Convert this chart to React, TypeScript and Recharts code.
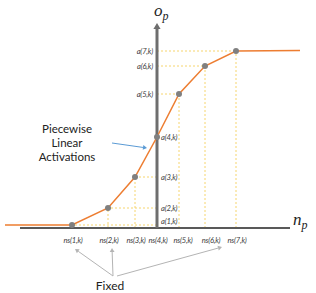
import React from "react";
import { ComposedChart, Line, Scatter, XAxis, YAxis, ReferenceLine, ReferenceDot } from "recharts";

// breakpoints ns(i,k) and activation values a(i,k), one unit = 25px in the picture
const nsValues = [-3.4, -1.96, -0.88, 0, 0.88, 1.92, 3.16];
const aValues = [0.12, 0.8, 2.04, 3.64, 5.36, 6.48, 7.08];
const nsLabels = ["ns(1,k)", "ns(2,k)", "ns(3,k)", "ns(4,k)", "ns(5,k)", "ns(6,k)", "ns(7,k)"];
const aLabels = ["a(1,k)", "a(2,k)", "a(3,k)", "a(4,k)", "a(5,k)", "a(6,k)", "a(7,k)"];
// flat tails of the activation outside the breakpoints
const leftTail = { x: -6.08, y: 0.12 };
const rightTail = { x: 5.72, y: 7.1 };

const points = nsValues.map((x, i) => ({ x, y: aValues[i] }));
const curve = [leftTail, ...points, rightTail];

const ORANGE = "#ED7D31";
const DASH = "#F6D56E";
const LABEL_FONT = "Lato, 'Open Sans', sans-serif";
// the tick labels under ns(5,k), ns(6,k) sit a bit right of their points
const tickNudge = [1, 1, 1, 1, 4, 6, 1];
// a(1,k) is lifted off the x axis
const aNudge = [-4, 0, 0, 0, 0, 0, 0];

function ArrowShape(props: any) {
  const { x1, y1, x2, y2, color, width, head, filled } = props;
  const ang = Math.atan2(y2 - y1, x2 - x1);
  const hl = head ?? 5;
  const hw = hl * 0.6;
  const bx = x2 - hl * Math.cos(ang);
  const by = y2 - hl * Math.sin(ang);
  const px = -Math.sin(ang) * hw;
  const py = Math.cos(ang) * hw;
  return (
    <g>
      <line x1={x1} y1={y1} x2={bx} y2={by} stroke={color} strokeWidth={width} />
      {filled ? (
        <polygon points={`${x2},${y2} ${bx + px},${by + py} ${bx - px},${by - py}`} fill={color} />
      ) : (
        <polyline
          points={`${bx + px},${by + py} ${x2},${y2} ${bx - px},${by - py}`}
          fill="none"
          stroke={color}
          strokeWidth={width}
        />
      )}
    </g>
  );
}

function NsTick(props: any) {
  const { x, y, payload } = props;
  return (
    <text
      x={x + tickNudge[payload.index]}
      y={y}
      dy={15}
      textAnchor="middle"
      fontFamily={LABEL_FONT}
      fontStyle="italic"
      fontSize={7.6}
      letterSpacing={-0.25}
      fill="#404040"
    >
      {nsLabels[payload.index]}
    </text>
  );
}

export default function App() {
  return (
    <div style={{ position: "absolute", left: 0, top: 0, background: "#fff" }}>
      <ComposedChart width={316} height={293} margin={{ top: 0, right: 0, bottom: 0, left: 0 }}>
        <XAxis
          dataKey="x"
          type="number"
          domain={[-6.28, 6.36]}
          ticks={nsValues}
          interval={0}
          height={65}
          axisLine={false}
          tickLine={false}
          tickSize={0}
          tickMargin={0}
          tick={<NsTick />}
          allowDataOverflow
        />
        <YAxis dataKey="y" type="number" domain={[0, 9.12]} hide allowDataOverflow />

        {points.map((p, i) => (
          <ReferenceLine
            key={`v${i}`}
            segment={[{ x: p.x, y: 0 }, { x: p.x, y: p.y }]}
            stroke={DASH}
            strokeDasharray="2 2"
            strokeWidth={1}
            ifOverflow="visible"
          />
        ))}
        {points.map((p, i) => (
          <ReferenceLine
            key={`h${i}`}
            segment={[{ x: 0, y: p.y }, { x: p.x, y: p.y }]}
            stroke={DASH}
            strokeDasharray="2 2"
            strokeWidth={1}
            ifOverflow="visible"
          />
        ))}

        {/* axes */}
        <ReferenceLine
          segment={[{ x: -5.48, y: 0 }, { x: 5.32, y: 0 }]}
          stroke="#595959"
          strokeWidth={2}
          ifOverflow="visible"
        />
        <ReferenceLine
          segment={[{ x: 0, y: 0 }, { x: 0, y: 8.2 }]}
          ifOverflow="visible"
          shape={(p: any) => <ArrowShape {...p} color="#6E6E6E" width={3} head={6} filled />}
        />

        <Line
          data={curve}
          dataKey="y"
          type="linear"
          stroke={ORANGE}
          strokeWidth={1.5}
          dot={false}
          activeDot={false}
          legendType="none"
          isAnimationActive={false}
        />
        <Scatter
          data={points}
          dataKey="y"
          isAnimationActive={false}
          shape={(p: any) => <circle cx={p.cx} cy={p.cy} r={3} fill="#808080" />}
        />

        {aLabels.map((label, i) => (
          <ReferenceDot
            key={`a${i}`}
            x={0}
            y={aValues[i]}
            r={0}
            ifOverflow="visible"
            shape={(p: any) => {
              const left = nsValues[i] > 0;
              return (
                <text
                  x={p.cx + (left ? -4 : 4)}
                  y={p.cy + aNudge[i]}
                  dy={3}
                  textAnchor={left ? "end" : "start"}
                  fontFamily={LABEL_FONT}
                  fontStyle="italic"
                  fontSize={7.6}
                  letterSpacing={-0.2}
                  fill="#404040"
                >
                  {label}
                </text>
              );
            }}
          />
        ))}

        {/* axis titles */}
        <ReferenceDot
          x={-0.12}
          y={8.48}
          r={0}
          ifOverflow="visible"
          shape={(p: any) => (
            <text x={p.cx} y={p.cy} fontFamily="'Liberation Serif', serif" fontStyle="italic" fontSize={17} fill="#222">
              o<tspan dy={4} fontSize={12}>p</tspan>
            </text>
          )}
        />
        <ReferenceDot
          x={5.44}
          y={0.12}
          r={0}
          ifOverflow="visible"
          shape={(p: any) => (
            <text x={p.cx} y={p.cy} fontFamily="'Liberation Serif', serif" fontStyle="italic" fontSize={17} fill="#222">
              n<tspan dy={4} fontSize={12}>p</tspan>
            </text>
          )}
        />

        {/* annotations */}
        <ReferenceDot
          x={-3.6}
          y={3.8}
          r={0}
          ifOverflow="visible"
          shape={(p: any) => (
            <text x={p.cx} y={p.cy} textAnchor="middle" fontFamily={LABEL_FONT} fontSize={11.5} fill="#222">
              <tspan x={p.cx}>Piecewise</tspan>
              <tspan x={p.cx} dy={14}>Linear</tspan>
              <tspan x={p.cx} dy={14}>Activations</tspan>
            </text>
          )}
        />
        <ReferenceLine
          segment={[{ x: -1.8, y: 3.4 }, { x: -0.4, y: 3.2 }]}
          ifOverflow="visible"
          shape={(p: any) => <ArrowShape {...p} color="#5B9BD5" width={1} head={4} filled />}
        />
        <ReferenceDot
          x={-1.88}
          y={-2.48}
          r={0}
          ifOverflow="visible"
          shape={(p: any) => (
            <text x={p.cx} y={p.cy} textAnchor="middle" fontFamily={LABEL_FONT} fontSize={12} fill="#222">
              Fixed
            </text>
          )}
        />
        <ReferenceLine
          segment={[{ x: -1.76, y: -1.92 }, { x: -3.28, y: -0.84 }]}
          ifOverflow="visible"
          shape={(p: any) => <ArrowShape {...p} color="#B4B4B4" width={1} head={4} filled />}
        />
        <ReferenceLine
          segment={[{ x: -1.76, y: -1.92 }, { x: -1.8, y: -0.8 }]}
          ifOverflow="visible"
          shape={(p: any) => <ArrowShape {...p} color="#B4B4B4" width={1} head={4} filled />}
        />
        <ReferenceLine
          segment={[{ x: -1.6, y: -1.92 }, { x: 2.6, y: -0.76 }]}
          ifOverflow="visible"
          shape={(p: any) => <ArrowShape {...p} color="#B4B4B4" width={1} head={4} filled />}
        />
      </ComposedChart>
    </div>
  );
}
